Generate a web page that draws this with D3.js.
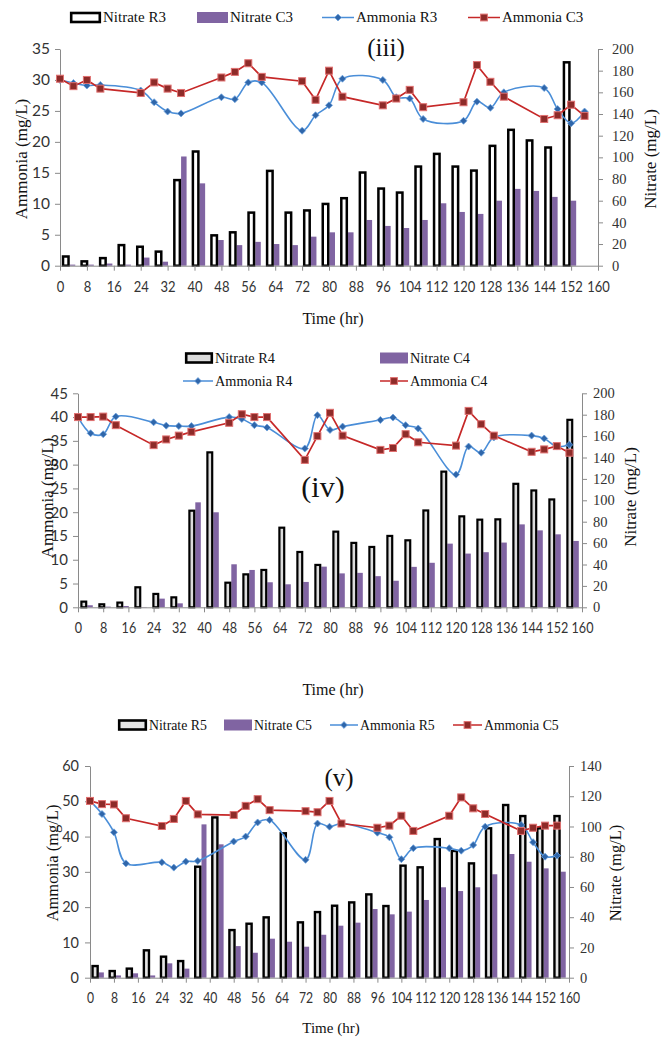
<!DOCTYPE html>
<html>
<head>
<meta charset="utf-8">
<script src="https://cdn.jsdelivr.net/npm/d3@7"></script>
<style>
  html, body { margin: 0; padding: 0; background: #fff; }
  svg { display: block; }
</style>
</head>
<body>
<svg id="chart" width="666" height="1037"></svg>
<script>
// Sampling times (hr) shared by every series
const hours = [0,4,8,12,24,28,32,36,48,52,56,60,72,76,80,84,96,100,104,108,120,124,128,132,144,148,152,156];
const hourTicks = d3.range(0, 161, 8);

// (iii)
const nitrateR3 = [8.5,4,7,19,17.5,13,79,105.4,28,30.8,49,87.5,49,51,57,62.3,86,71.2,67.5,91.5,103.2,91.5,87.8,110.6,125.4,115.6,109.1,187.7];
const nitrateC3 = [1,1,2,1,7.5,3.7,100.8,76,23.7,19,22,20,19,26.8,30.8,30.8,42.2,36.7,34.8,42.2,57.6,49.6,47.8,60,70.9,69,63.5,60];
const ammoniaR3 = [30.0,29.5,29.1,29.2,28.3,26.4,24.9,24.6,27.2,26.9,29.6,29.6,21.8,24.3,25.9,30.2,30.0,27.2,27.0,23.7,23.4,26.5,25.5,28.0,28.7,25.3,23.0,24.9];
const ammoniaC3 = [30.2,29.0,30.0,28.6,27.9,29.6,28.6,27.9,30.4,31.3,32.7,30.5,29.8,26.8,31.5,27.3,25.9,27.0,28.4,25.6,26.4,32.4,29.7,27.3,23.7,24.3,26.0,24.2];

// (iv)
const nitrateR4 = [5.3,2.8,4.4,18.7,12.5,9.3,90.3,144.8,23,30.8,34.9,74.4,51.7,39.6,70.7,60.2,56.4,66.7,62.6,90.5,126.8,85,81.9,82.2,115.4,109.2,100.8,175.2];
const nitrateC4 = [1.9,0.6,1.2,0.3,8.1,3.7,98.1,88.8,40.2,34.9,23.4,21.5,23.7,38,31.7,32.2,29.1,24.8,37.8,41.6,59.5,50.2,51.5,60.5,77.5,71.9,68.2,62];
const ammoniaR4 = [40.0,36.6,36.4,40.1,38.9,38.2,38.1,38.1,40.0,39.6,38.3,37.8,33.4,40.4,37.3,38.0,39.4,39.9,38.3,37.6,27.9,33.8,32.5,35.7,36.1,35.5,33.8,34.2];
const ammoniaC4 = [40.0,40.0,40.1,38.3,34.1,35.3,36.1,36.9,38.8,40.6,40.0,40.0,31.0,36.0,40.9,36.1,33.1,33.5,36.4,34.7,34.0,41.3,38.5,36.1,32.7,33.2,33.9,32.5];

// (v)
const nitrateR5 = [7.7,4.4,6,18.1,13.9,11,73.4,106,31.5,35.7,39.9,95.5,36.6,43.4,47.6,49.8,55.1,47.4,74.1,73,91.7,83.8,75.6,98.8,114.2,106.9,98.8,106.9];
const nitrateC5 = [3.5,1.5,2.9,1.5,9.5,6,101.4,88.2,20.9,16.5,25.8,23.8,20.5,28.4,34.4,36.4,45.4,41.9,43.7,51.4,59.8,57.3,59.8,68.4,81.8,76.7,72.3,70.1];
const ammoniaR5 = [50.1,46.4,41.2,32.4,32.7,31.2,32.9,33.1,38.6,40.0,44.0,44.7,33.4,43.7,42.8,43.7,41.1,39.8,33.6,36.7,36.7,36.0,37.6,42.8,43.3,38.4,34.3,34.6];
const ammoniaC5 = [50.1,49.2,49.1,45.2,43.0,45.0,50.1,46.3,46.1,48.7,50.6,47.5,47.2,46.9,50.1,43.7,42.5,43.1,45.9,41.6,45.9,51.1,48.0,46.4,41.6,42.5,43.1,43.1];

const SERIF = '"Liberation Serif", "Times New Roman", serif';
const SANS = 'Lato, "Open Sans", sans-serif';
const PURPLE = '#8064A2';
const BLUE = '#4A8ED8';
const BLUE_MK = '#2F66AA';
const RED = '#C62828';
const RED_MK = '#8E2B29';
const RED_MK_EDGE = '#E07070';
const AXIS = '#8a8a8a';
const LABEL = '#333';

const svg = d3.select('#chart');

function diamond(r) { return `M0,${-r}L${r},0L0,${r}L${-r},0Z`; }

function drawLegend(g, items, fs, sw) {
  items.forEach(it => {
    const w = it.w;
    if (it.kind === 'R') {
      g.append('rect').attr('x', it.x + 1.2).attr('y', it.y - 4.5).attr('width', w - 2.4).attr('height', 9)
        .attr('fill', it.fill).attr('stroke', '#000').attr('stroke-width', 2.6);
    } else if (it.kind === 'C') {
      g.append('rect').attr('x', it.x).attr('y', it.y - 5.5).attr('width', w).attr('height', 11).attr('fill', PURPLE);
    } else if (it.kind === 'LR') {
      g.append('line').attr('x1', it.x).attr('x2', it.x + w).attr('y1', it.y).attr('y2', it.y)
        .attr('stroke', BLUE).attr('stroke-width', 1.5);
      g.append('path').attr('d', diamond(3.4)).attr('transform', `translate(${it.x + w / 2},${it.y})`)
        .attr('fill', BLUE_MK).attr('stroke', '#6FA3DE').attr('stroke-width', 0.8);
    } else {
      g.append('line').attr('x1', it.x).attr('x2', it.x + w).attr('y1', it.y).attr('y2', it.y)
        .attr('stroke', RED).attr('stroke-width', 1.5);
      g.append('rect').attr('x', it.x + w / 2 - 3.4).attr('y', it.y - 3.4).attr('width', 6.8).attr('height', 6.8)
        .attr('fill', RED_MK).attr('stroke', RED_MK_EDGE).attr('stroke-width', 1);
    }
    g.append('text').attr('x', it.x + w + 2).attr('y', it.y + fs * 0.33)
      .attr('font-family', SERIF).attr('font-size', fs).attr('fill', '#111').text(it.label);
  });
}

function drawPanel(cfg) {
  const g = svg.append('g');
  const x = d3.scaleLinear().domain([0, 160]).range([cfg.x0, cfg.x1]);
  const slot = d3.scaleBand().domain(d3.range(cfg.slots)).range([cfg.x0, cfg.x1]);
  const yA = d3.scaleLinear().domain([0, cfg.aMax]).range([cfg.yBot, cfg.yTop]);
  const yN = d3.scaleLinear().domain([0, cfg.nMax]).range([cfg.yBot, cfg.yTop]);
  const mid = i => slot(i) + slot.bandwidth() / 2 + cfg.shift;

  // nitrate bars (right axis)
  g.append('g').selectAll('rect').data(cfg.nitrateC).join('rect')
    .attr('x', (d, i) => mid(i)).attr('width', cfg.cW)
    .attr('y', d => yN(d)).attr('height', d => yN(0) - yN(d))
    .attr('fill', PURPLE);
  g.append('g').selectAll('rect').data(cfg.nitrateR).join('rect')
    .attr('x', (d, i) => mid(i) - cfg.rW + cfg.sw / 2).attr('width', cfg.rW - cfg.sw)
    .attr('y', d => yN(d)).attr('height', d => yN(0) - yN(d))
    .attr('fill', cfg.rFill).attr('stroke', '#000').attr('stroke-width', cfg.sw);

  // axes
  const styleAxis = (sel) => {
    sel.select('.domain').attr('stroke', AXIS).attr('stroke-width', 1);
    sel.selectAll('.tick line').attr('stroke', AXIS).attr('stroke-width', 1);
    sel.selectAll('.tick text').attr('fill', LABEL);
  };

  const left = g.append('g').attr('transform', `translate(${cfg.x0},0)`)
    .call(d3.axisLeft(yA).tickValues(d3.range(0, cfg.aMax + 0.1, cfg.aStep)).tickSize(5).tickSizeOuter(0).tickPadding(cfg.leftPad))
    .call(styleAxis);
  left.selectAll('.tick text').attr('font-family', SANS).attr('font-size', cfg.leftFs);

  const right = g.append('g').attr('transform', `translate(${cfg.x1},0)`)
    .call(d3.axisRight(yN).tickValues(d3.range(0, cfg.nMax + 0.1, 20)).tickSize(5).tickSizeOuter(0).tickPadding(cfg.rightPad))
    .call(styleAxis);
  right.selectAll('.tick text').attr('font-family', SERIF).attr('font-size', cfg.rightFs);

  const bottom = g.append('g').attr('transform', `translate(0,${cfg.yBot})`)
    .call(d3.axisBottom(x).tickValues(hourTicks).tickSize(5).tickSizeOuter(0).tickPadding(cfg.bottomPad))
    .call(styleAxis);
  bottom.selectAll('.tick text').attr('font-family', SANS).attr('font-size', cfg.bottomFs)
    .attr('transform', `scale(${cfg.bottomSqueeze},1)`);

  // ammonia lines (left axis)
  const lineR = d3.line().x((d, i) => x(hours[i])).y(d => yA(d)).curve(d3.curveCatmullRom.alpha(0.5));
  const lineC = d3.line().x((d, i) => x(hours[i])).y(d => yA(d));
  g.append('path').datum(cfg.ammoniaR).attr('d', lineR)
    .attr('fill', 'none').attr('stroke', BLUE).attr('stroke-width', 1.6);
  g.append('g').selectAll('path').data(cfg.ammoniaR).join('path')
    .attr('d', diamond(3.5))
    .attr('transform', (d, i) => `translate(${x(hours[i])},${yA(d)})`)
    .attr('fill', BLUE_MK).attr('stroke', '#6FA3DE').attr('stroke-width', 0.8);
  g.append('path').datum(cfg.ammoniaC).attr('d', lineC)
    .attr('fill', 'none').attr('stroke', RED).attr('stroke-width', 1.7);
  g.append('g').selectAll('rect').data(cfg.ammoniaC).join('rect')
    .attr('x', (d, i) => x(hours[i]) - 3.5).attr('y', d => yA(d) - 3.5)
    .attr('width', 7).attr('height', 7)
    .attr('fill', RED_MK).attr('stroke', RED_MK_EDGE).attr('stroke-width', 1);

  // axis titles
  g.append('text').attr('transform', `translate(${cfg.aTitleX},${cfg.aTitleY}) rotate(-90)`)
    .attr('text-anchor', 'middle').attr('font-family', SERIF).attr('font-size', cfg.titleFs).attr('fill', '#111')
    .text('Ammonia (mg/L)');
  g.append('text').attr('transform', `translate(${cfg.nTitleX},${cfg.nTitleY}) rotate(-90)`)
    .attr('text-anchor', 'middle').attr('font-family', SERIF).attr('font-size', cfg.titleFs).attr('fill', '#111')
    .text('Nitrate (mg/L)');
  g.append('text').attr('x', cfg.timeX).attr('y', cfg.timeY)
    .attr('text-anchor', 'middle').attr('font-family', SERIF).attr('font-size', cfg.timeFs).attr('fill', '#111')
    .text('Time (hr)');

  // panel tag
  g.append('text').attr('x', cfg.tagX).attr('y', cfg.tagY)
    .attr('text-anchor', 'middle').attr('font-family', SERIF).attr('font-size', cfg.tagFs).attr('fill', '#111')
    .text(cfg.tag);

  drawLegend(g, cfg.legend, cfg.legendFs);
}

drawPanel({
  x0: 60, x1: 598, yTop: 49, yBot: 265.7, slots: 29, shift: 0.5,
  aMax: 35, aStep: 5, nMax: 200,
  nitrateR: nitrateR3, nitrateC: nitrateC3, ammoniaR: ammoniaR3, ammoniaC: ammoniaC3,
  rW: 8, cW: 5.5, sw: 2.5, rFill: '#fff',
  leftFs: 15.5, leftPad: 5, rightFs: 14.5, rightPad: 9, bottomFs: 15.5, bottomPad: 10, bottomSqueeze: 0.84,
  aTitleX: 27, aTitleY: 159, nTitleX: 656, nTitleY: 159, titleFs: 17,
  timeX: 333, timeY: 324, timeFs: 16,
  tag: '(iii)', tagX: 386, tagY: 56, tagFs: 25,
  legendFs: 15,
  legend: [
    { kind: 'R', x: 70, y: 17.5, w: 31, fill: '#fff', label: 'Nitrate R3' },
    { kind: 'C', x: 197, y: 17.5, w: 31, label: 'Nitrate C3' },
    { kind: 'LR', x: 322, y: 17.5, w: 32, label: 'Ammonia R3' },
    { kind: 'LC', x: 468, y: 17.5, w: 32, label: 'Ammonia C3' }
  ]
});

drawPanel({
  x0: 78, x1: 582, yTop: 393.3, yBot: 607.3, slots: 28, shift: 0.3,
  aMax: 45, aStep: 5, nMax: 200,
  nitrateR: nitrateR4, nitrateC: nitrateC4, ammoniaR: ammoniaR4, ammoniaC: ammoniaC4,
  rW: 7, cW: 5.5, sw: 2.2, rFill: '#dcdcdc',
  leftFs: 15, leftPad: 5, rightFs: 14.5, rightPad: 6, bottomFs: 15, bottomPad: 10, bottomSqueeze: 0.84,
  aTitleX: 53, aTitleY: 498, nTitleX: 636, nTitleY: 497, titleFs: 17,
  timeX: 333, timeY: 695, timeFs: 16,
  tag: '(iv)', tagX: 323, tagY: 497, tagFs: 30,
  legendFs: 14.3,
  legend: [
    { kind: 'R', x: 185, y: 358, w: 28, fill: '#dcdcdc', label: 'Nitrate R4' },
    { kind: 'C', x: 380, y: 358, w: 28, label: 'Nitrate C4' },
    { kind: 'LR', x: 183, y: 381, w: 30, label: 'Ammonia R4' },
    { kind: 'LC', x: 380, y: 381, w: 28, label: 'Ammonia C4' }
  ]
});

drawPanel({
  x0: 90, x1: 569, yTop: 766, yBot: 977.7, slots: 28, shift: 0.3,
  aMax: 60, aStep: 10, nMax: 140,
  nitrateR: nitrateR5, nitrateC: nitrateC5, ammoniaR: ammoniaR5, ammoniaC: ammoniaC5,
  rW: 7.5, cW: 5, sw: 2.4, rFill: '#e4e4e4',
  leftFs: 14.5, leftPad: 6, rightFs: 14.5, rightPad: 6, bottomFs: 14.5, bottomPad: 10, bottomSqueeze: 0.84,
  aTitleX: 58, aTitleY: 863, nTitleX: 621, nTitleY: 873, titleFs: 16.5,
  timeX: 331, timeY: 1033, timeFs: 15,
  tag: '(v)', tagX: 339, tagY: 786, tagFs: 25,
  legendFs: 13.8,
  legend: [
    { kind: 'R', x: 118, y: 725, w: 29, fill: '#e4e4e4', label: 'Nitrate R5' },
    { kind: 'C', x: 224, y: 725, w: 28, label: 'Nitrate C5' },
    { kind: 'LR', x: 330, y: 725, w: 28, label: 'Ammonia R5' },
    { kind: 'LC', x: 453, y: 725, w: 29, label: 'Ammonia C5' }
  ]
});
</script>
</body>
</html>
